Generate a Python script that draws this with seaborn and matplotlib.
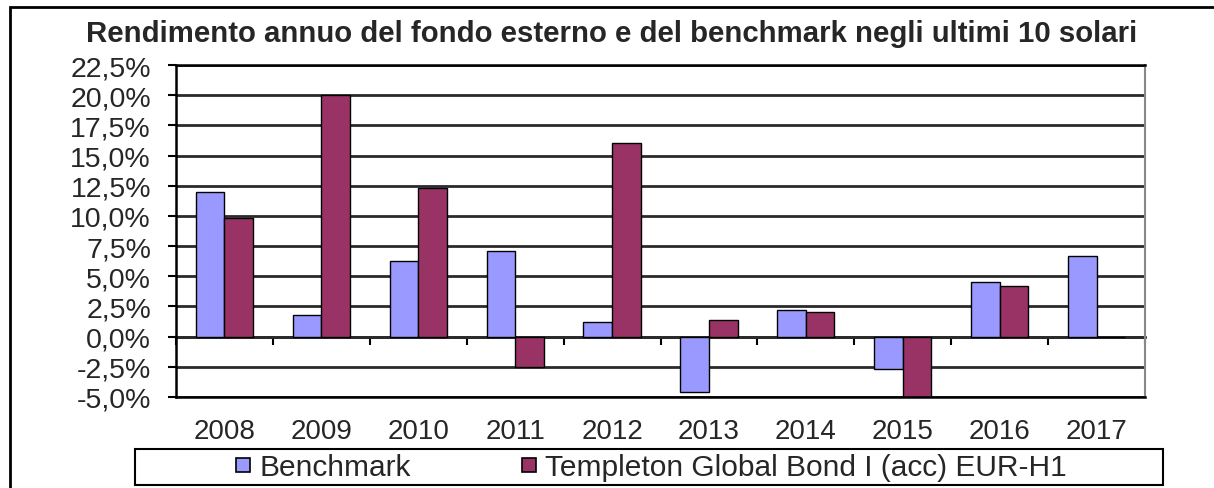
import numpy as np
import pandas as pd
import matplotlib
matplotlib.use("Agg")
import matplotlib.pyplot as plt
import matplotlib.patches as mpatches
from matplotlib.lines import Line2D
from matplotlib.ticker import FuncFormatter
import seaborn as sns

years = ["2008", "2009", "2010", "2011", "2012", "2013", "2014", "2015", "2016", "2017"]
benchmark = [12.0, 1.8, 6.3, 7.1, 1.2, -4.6, 2.2, -2.7, 4.5, 6.7]
templeton = [9.8, 20.0, 12.3, -2.5, 16.0, 1.4, 2.0, -5.0, 4.2, 0.0]
series_names = ["Benchmark", "Templeton Global Bond I (acc) EUR-H1"]
series_colors = ["#9999FF", "#993366"]
y_ticks = [-5.0, -2.5, 0.0, 2.5, 5.0, 7.5, 10.0, 12.5, 15.0, 17.5, 20.0, 22.5]
title = "Rendimento annuo del fondo esterno e del benchmark negli ultimi 10 solari"

df = pd.DataFrame({
    "Anno": years * 2,
    "Rendimento": benchmark + templeton,
    "Serie": [series_names[0]] * len(years) + [series_names[1]] * len(years),
})

sns.set_style("white")
plt.rcParams["font.family"] = ["Liberation Sans", "DejaVu Sans"]

W, H = 1214, 489
fig = plt.figure(figsize=(W / 100, H / 100), dpi=100)
ax = fig.add_axes([176 / W, 1 - 398 / H, (1145 - 176) / W, (398 - 66) / H])

sns.barplot(data=df, x="Anno", y="Rendimento", hue="Serie",
            palette=series_colors, width=0.59, saturation=1,
            edgecolor="black", linewidth=1.0, ax=ax, legend=False)

ax.set_xlim(-0.5, len(years) - 0.5)
ax.set_ylim(y_ticks[0], y_ticks[-1])
ax.set_yticks(y_ticks)
ax.yaxis.set_major_formatter(FuncFormatter(lambda v, p: f"{v:.1f}%".replace(".", ",")))
ax.yaxis.grid(True, color="#2a2a2a", linewidth=2.0)
ax.set_axisbelow(True)
ax.set_xlabel("")
ax.set_ylabel("")

ax.tick_params(axis="y", direction="out", length=6, width=1.5, color="black",
               labelsize=20.5, pad=12, left=True)
ax.tick_params(axis="x", length=0, labelsize=20, pad=15)

for side in ["left", "bottom", "top"]:
    ax.spines[side].set_visible(True)
    ax.spines[side].set_color("black")
    ax.spines[side].set_linewidth(1.8)
ax.spines["right"].set_visible(True)
ax.spines["right"].set_color("#888888")
ax.spines["right"].set_linewidth(1.5)

# zero axis with category-boundary ticks
sec = ax.secondary_xaxis(0, transform=ax.transData)
sec.set_xticks(np.arange(-0.5, len(years), 1.0))
sec.set_xticklabels([])
sec.tick_params(direction="out", length=6, width=1.5, color="black")
sec.spines["bottom"].set_color("black")
sec.spines["bottom"].set_linewidth(1.8)

fig.text(612 / W, 1 - 34 / H, title, ha="center", va="center",
         fontsize=21.2, fontweight="bold")

# legend with square markers
handles = [Line2D([], [], linestyle="none", marker="s", markersize=9.5,
                  markerfacecolor=c, markeredgecolor="black", markeredgewidth=1.2)
           for c in series_colors]
leg = fig.legend(handles, series_names, loc="center", ncol=2,
                 bbox_to_anchor=(651 / W, 1 - 468 / H), frameon=False,
                 fontsize=21.5, handlelength=0.5,
                 handletextpad=0.3, columnspacing=3.7, borderpad=0.0)
fig.add_artist(mpatches.Rectangle((135 / W, 1 - 486 / H), (1163 - 135) / W, 36 / H,
                                  transform=fig.transFigure, fill=False,
                                  edgecolor="black", linewidth=1.5))

# outer frame
fig.add_artist(mpatches.Rectangle((10 / W, -0.2), 1.3, 1 - 8 / H + 0.2,
                                  transform=fig.transFigure, fill=False,
                                  edgecolor="black", linewidth=2, clip_on=False))

fig.savefig("out.png", dpi=100)
